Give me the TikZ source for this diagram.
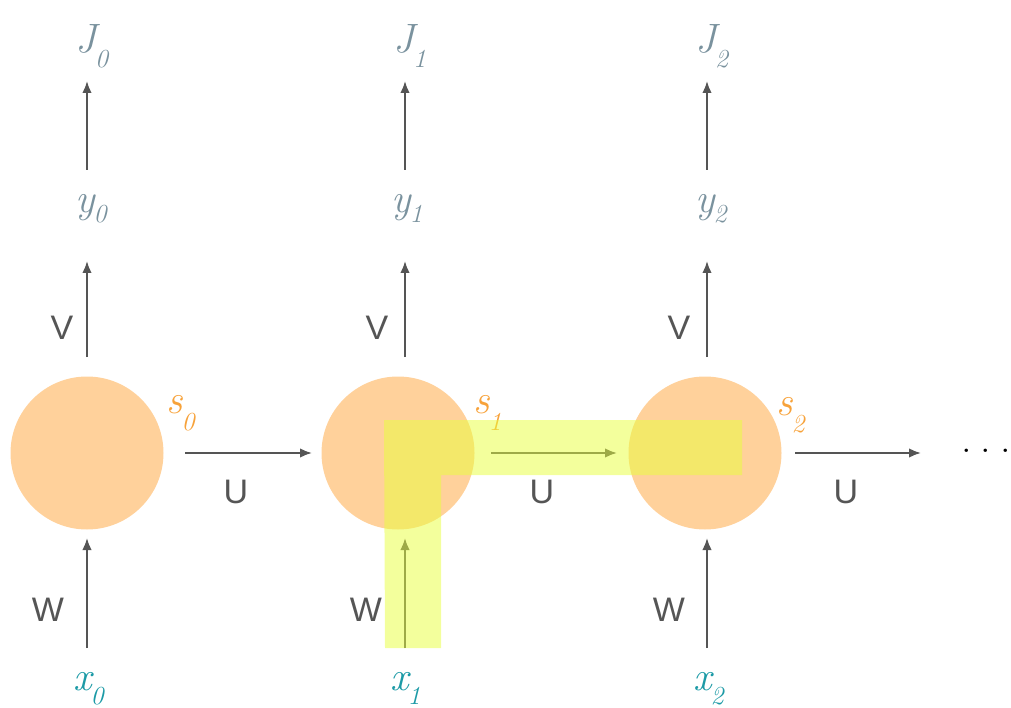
\documentclass[tikz,border=0pt]{standalone}
\usepackage{fontspec}
\newfontfamily\lblfont{Liberation Sans}
\usetikzlibrary{arrows.meta}
\definecolor{nodefill}{HTML}{FFD19B}
\definecolor{arrowgray}{HTML}{555555}
\definecolor{wgray}{HTML}{555555}
\definecolor{outgray}{HTML}{7A929E}
\definecolor{inteal}{HTML}{1C9AA6}
\definecolor{sorange}{HTML}{F7A23A}
\definecolor{hilite}{RGB}{232,255,58}
\newcommand{\varlab}[3]{{\fontsize{41}{41}\selectfont\itshape #1}\kern-1pt\raisebox{-#3pt}{\fontsize{26}{26}\selectfont\itshape #2}}
\begin{document}
\begin{tikzpicture}[x=1pt,y=-1pt,
  state/.style={circle, fill=nodefill, minimum size=153pt, inner sep=0pt},
  conn/.style={draw=arrowgray, line width=1.9pt, -{Latex[length=12pt,width=9.5pt]}},
  wlabel/.style={font=\lblfont\fontsize{34}{34}\selectfont, text=wgray, inner sep=0pt},
  var/.style={inner sep=0pt, anchor=base west},
  outvar/.style={var, text=outgray},
  invar/.style={var, text=inteal},
  svar/.style={var, text=sorange},
  hl/.style={fill=hilite, fill opacity=0.5}
]
\useasboundingbox (0,0) rectangle (1011,708);

% state circles
\node[state] (c0) at (87,453) {};
\node[state] (c1) at (398,453) {};
\node[state] (c2) at (705,453) {};

% labels
\node[outvar] (J0) at (75,53) {\varlab{J}{0}{15}};
\node[outvar] (J1) at (393,53) {\varlab{J}{1}{15}};
\node[outvar] (J2) at (695,53) {\varlab{J}{2}{15}};
\node[outvar] (y0) at (75,213) {\varlab{y}{0}{10}};
\node[outvar] (y1) at (391,213) {\varlab{y}{1}{10}};
\node[outvar] (y2) at (695,213) {\varlab{y}{2}{10}};
\node[invar] (x0) at (73,690) {\varlab{x}{0}{14}};
\node[invar] (x1) at (390,690) {\varlab{x}{1}{14}};
\node[invar] (x2) at (693,690) {\varlab{x}{2}{14}};
\node[svar] (s0) at (166,413) {\varlab{s}{0}{17}};
\node[svar] (s1) at (473,413) {\varlab{s}{1}{17}};
\node[svar] (s2) at (776,415) {\varlab{s}{2}{17}};

\node[wlabel] (V0) at (62,328) {V};
\node[wlabel] (V1) at (377,328) {V};
\node[wlabel] (V2) at (679,328) {V};
\node[wlabel] (W0) at (48,610) {W};
\node[wlabel] (W1) at (366,610) {W};
\node[wlabel] (W2) at (669,610) {W};
\node[wlabel] (U0) at (236,492) {U};
\node[wlabel] (U1) at (542,492) {U};
\node[wlabel] (U2) at (846,492) {U};

\node[inner sep=0pt, font=\fontsize{42}{42}\selectfont] (dots) at (986,451) {.\hspace{9pt}.\hspace{9pt}.};

% arrow endpoints
\foreach \n/\x in {0/87,1/405,2/707}{
  \coordinate (ja\n) at (\x,170); \coordinate (jb\n) at (\x,81);
  \coordinate (va\n) at (\x,357); \coordinate (vb\n) at (\x,261);
  \coordinate (wa\n) at (\x,648); \coordinate (wb\n) at (\x,538);
}
\coordinate (ua0) at (185,453); \coordinate (ub0) at (312,453);
\coordinate (ua1) at (491,453); \coordinate (ub1) at (617,453);
\coordinate (ua2) at (795,453); \coordinate (ub2) at (921,453);

\foreach \n in {0,1,2}{
  \draw[conn] (ja\n) -- (jb\n);
  \draw[conn] (va\n) -- (vb\n);
  \draw[conn] (wa\n) -- (wb\n);
  \draw[conn] (ua\n) -- (ub\n);
}

% highlight path
\path[hl] (384,420) -- (742,420) -- (742,475) -- (441,475) -- (441,648) -- (385,648) -- cycle;
\end{tikzpicture}
\end{document}
